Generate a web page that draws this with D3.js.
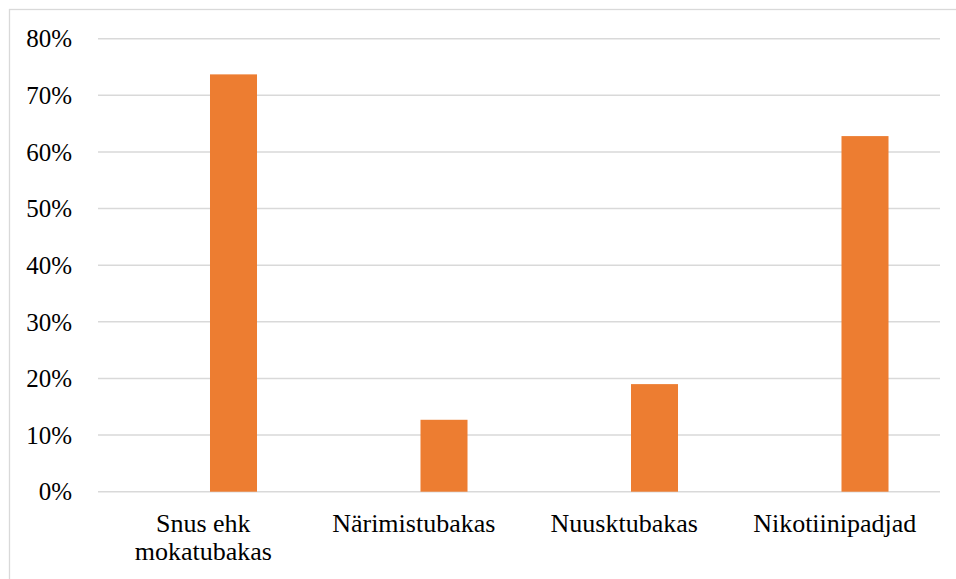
<!DOCTYPE html>
<html>
<head>
<meta charset="utf-8">
<script src="https://cdn.jsdelivr.net/npm/d3@7"></script>
<style>
  html, body { margin: 0; padding: 0; background: #fff; }
  svg { display: block; }
  svg text { font-family: 'Liberation Serif', 'Times New Roman', Times, 'DejaVu Serif', serif; }
</style>
</head>
<body>
<div id="chart"></div>
<script>
var WIDTH = 956;
var HEIGHT = 579;
var BARCOLOR = '#ed7d31';
var GRIDCOLOR = '#d9d9d9';
var MARGIN = { top: 38.7, right: 16, bottom: 87.3, left: 98 };

// data
var categories = [['Snus ehk', 'mokatubakas'], ['Närimistubakas'], ['Nuusktubakas'], ['Nikotiinipadjad']];
var series = ['', 'Protsent'];
var barValues = [73.7, 12.7, 19.0, 62.8];
var yTicks = [0, 10, 20, 30, 40, 50, 60, 70, 80];

window.addEventListener('DOMContentLoaded', function () {
    var svg = d3.select('#chart').append('svg').attr('width', WIDTH).attr('height', HEIGHT);
    var drawW = WIDTH - MARGIN.left - MARGIN.right;
    var drawH = HEIGHT - MARGIN.top - MARGIN.bottom;

    // chart area border (only top/left visible in the crop)
    svg.append('rect').attr('x', 9.5).attr('y', 9.5).attr('width', WIDTH + 20).attr('height', HEIGHT + 20)
        .attr('fill', 'none').attr('stroke', GRIDCOLOR).attr('stroke-width', 1.3);

    var grp = svg.append('g').attr('transform', 'translate(' + MARGIN.left + ',' + MARGIN.top + ')');

    var keys = categories.map(function (c) { return c.join(' '); });
    var x0 = d3.scaleBand().domain(keys).range([0, drawW]).padding(0);
    // inner band for the two series; the first series has no values
    var x1 = d3.scaleBand().domain(series).range([0, x0.bandwidth()])
        .paddingInner(0.223).paddingOuter(0.851);
    var y = d3.scaleLinear().domain([0, 80]).range([drawH, 0]);

    // gridlines
    grp.append('g').selectAll('line').data(yTicks).join('line')
        .attr('x1', 0).attr('x2', drawW)
        .attr('y1', function (d) { return y(d); }).attr('y2', function (d) { return y(d); })
        .attr('stroke', GRIDCOLOR).attr('stroke-width', 1.5);

    // y tick labels
    grp.append('g').selectAll('text').data(yTicks).join('text')
        .attr('x', -26).attr('y', function (d) { return y(d); }).attr('dy', '0.35em')
        .attr('text-anchor', 'end').style('font-size', '25px').attr('fill', '#000')
        .text(function (d) { return d + '%'; });

    // bars
    grp.append('g').selectAll('rect').data(barValues).join('rect')
        .attr('x', function (d, i) { return x0(keys[i]) + x1(series[1]); })
        .attr('width', x1.bandwidth())
        .attr('y', function (d) { return y(d); })
        .attr('height', function (d) { return y(0) - y(d); })
        .attr('fill', BARCOLOR);

    // category labels
    var lab = grp.append('g').selectAll('text').data(categories).join('text')
        .attr('x', function (d, i) { return x0(keys[i]) + x0.bandwidth() / 2; })
        .attr('y', drawH + 40)
        .attr('text-anchor', 'middle').style('font-size', '26px').attr('fill', '#000');
    lab.selectAll('tspan').data(function (d) { return d; }).join('tspan')
        .attr('x', function () { return d3.select(this.parentNode).attr('x'); })
        .attr('dy', function (d, i) { return i === 0 ? 0 : 28.5; })
        .text(function (d) { return d; });
});
</script>
</body>
</html>
